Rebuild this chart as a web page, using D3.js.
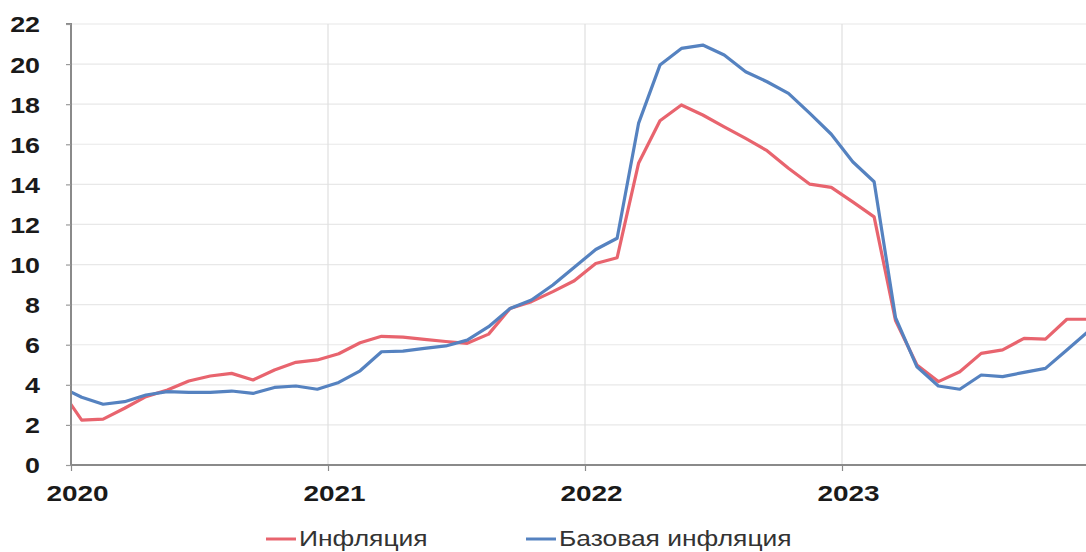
<!DOCTYPE html>
<html>
<head>
<meta charset="utf-8">
<script src="https://cdn.jsdelivr.net/npm/d3@7"></script>
<style>
  html, body { margin: 0; padding: 0; background: #fff; }
  svg { display: block; }
</style>
</head>
<body>
<svg id="chart" width="1086" height="552"></svg>
<script>
// ---- data (monthly, Dec 2019 … Dec 2023; Dec 2019 lies left of the axis and is clipped) ----
const years = ["2020", "2021", "2022", "2023"];
const yTicks = [0, 2, 4, 6, 8, 10, 12, 14, 16, 18, 20, 22];
const seriesNames = ["Инфляция", "Базовая инфляция"];
const inflation = [
  3.8,
  2.24, 2.29, 2.83, 3.41, 3.74, 4.19, 4.44, 4.57, 4.24, 4.74, 5.12, 5.24,
  5.55, 6.10, 6.42, 6.38, 6.27, 6.16, 6.07, 6.53, 7.81, 8.15, 8.65, 9.19,
  10.05, 10.34, 15.05, 17.17, 17.96, 17.46, 16.87, 16.29, 15.68, 14.80, 14.01, 13.85,
  13.13, 12.38, 7.20, 4.99, 4.16, 4.65, 5.57, 5.74, 6.32, 6.28, 7.27, 7.27
];
const coreInflation = [
  3.9,
  3.38, 3.03, 3.16, 3.49, 3.66, 3.62, 3.62, 3.69, 3.57, 3.87, 3.94, 3.78,
  4.12, 4.70, 5.65, 5.68, 5.82, 5.94, 6.23, 6.90, 7.81, 8.23, 8.98, 9.86,
  10.75, 11.31, 17.04, 19.95, 20.78, 20.95, 20.45, 19.62, 19.12, 18.54, 17.54, 16.50,
  15.13, 14.13, 7.35, 4.90, 3.94, 3.78, 4.49, 4.41, 4.62, 4.82, 5.74, 6.67
];
const colors = ["#e8646e", "#5582c0"];

// ---- layout ----
const svg = d3.select("#chart");
const pLeft = 71, pRight = 1086, pTop = 24, pBottom = 465;
const FONT = "'Liberation Sans', Arial, sans-serif";

// horizontally widen a text element (the reference image is stretched sideways)
function widen(sel, k) {
  sel.each(function () {
    const w = this.getComputedTextLength();
    d3.select(this).attr("textLength", w * k).attr("lengthAdjust", "spacingAndGlyphs");
  });
}

// x: months since Jan 2020; a year spans 12 units
const x = d3.scaleLinear().domain([0, 48]).range([pLeft, pLeft + 4 * 257]);
const y = d3.scaleLinear().domain([0, 22]).range([pBottom, pTop]);

svg.append("defs").append("clipPath").attr("id", "plot")
  .append("rect").attr("x", pLeft).attr("y", 0).attr("width", pRight - pLeft).attr("height", pBottom + 2);

// grid
const grid = svg.append("g");
grid.selectAll("line.h").data(yTicks.filter(d => d > 0)).enter().append("line")
  .attr("x1", pLeft).attr("x2", pRight)
  .attr("y1", d => y(d)).attr("y2", d => y(d))
  .attr("stroke", "#e8e8e8").attr("stroke-width", 1.2);
grid.selectAll("line.v").data(years.slice(1)).enter().append("line")
  .attr("x1", (d, i) => x((i + 1) * 12)).attr("x2", (d, i) => x((i + 1) * 12))
  .attr("y1", pTop).attr("y2", pBottom)
  .attr("stroke", "#e0e0e0").attr("stroke-width", 1.2);

// lines
const line = d3.line().x((d, i) => x(i - 0.5)).y(d => y(d));
const g = svg.append("g").attr("clip-path", "url(#plot)");
[inflation, coreInflation].forEach((s, k) => {
  g.append("path").datum(s)
    .attr("fill", "none").attr("stroke", colors[k]).attr("stroke-width", 3.2)
    .attr("stroke-linejoin", "round").attr("d", line);
});

// y axis
const yAxis = svg.append("g").attr("transform", `translate(${pLeft},0)`)
  .call(d3.axisLeft(y).tickValues(yTicks).tickSize(5).tickPadding(26).tickFormat(d3.format("d")));
yAxis.select(".domain").attr("stroke", "#8a8a8a").attr("stroke-width", 2).attr("d", `M-5,${pTop}H0V${pBottom}`);
yAxis.selectAll(".tick line").attr("stroke", "#9a9a9a").attr("stroke-width", 1.2);
yAxis.selectAll(".tick text")
  .attr("font-family", FONT).attr("font-weight", "bold")
  .attr("font-size", 22).attr("fill", "#1a1a1a").attr("dy", "0.36em")
  .call(widen, 1.22);

// x axis
const xAxis = svg.append("g").attr("transform", `translate(0,${pBottom})`)
  .call(d3.axisBottom(x).tickValues([0, 12, 24, 36]).tickSize(6).tickPadding(12)
    .tickFormat((d, i) => years[i]));
xAxis.select(".domain").attr("stroke", "#8a8a8a").attr("stroke-width", 2).attr("d", `M${pLeft},0H${pRight}`);
xAxis.selectAll(".tick line").attr("stroke", "#8a8a8a").attr("stroke-width", 1.2);
xAxis.selectAll(".tick text")
  .attr("font-family", FONT).attr("font-weight", "bold")
  .attr("font-size", 22).attr("fill", "#1a1a1a")
  .attr("x", 6).attr("y", 20).attr("dy", "0.71em")
  .call(widen, 1.27);

// legend
const legend = svg.append("g");
const legX = [266, 526];
seriesNames.forEach((name, k) => {
  legend.append("line").attr("x1", legX[k]).attr("x2", legX[k] + 30)
    .attr("y1", 539).attr("y2", 539).attr("stroke", colors[k]).attr("stroke-width", 3);
  legend.append("text").attr("x", legX[k] + 33).attr("y", 546)
    .attr("font-family", FONT).attr("font-size", 22)
    .attr("fill", "#333").text(name)
    .call(widen, 1.2);
});
</script>
</body>
</html>
